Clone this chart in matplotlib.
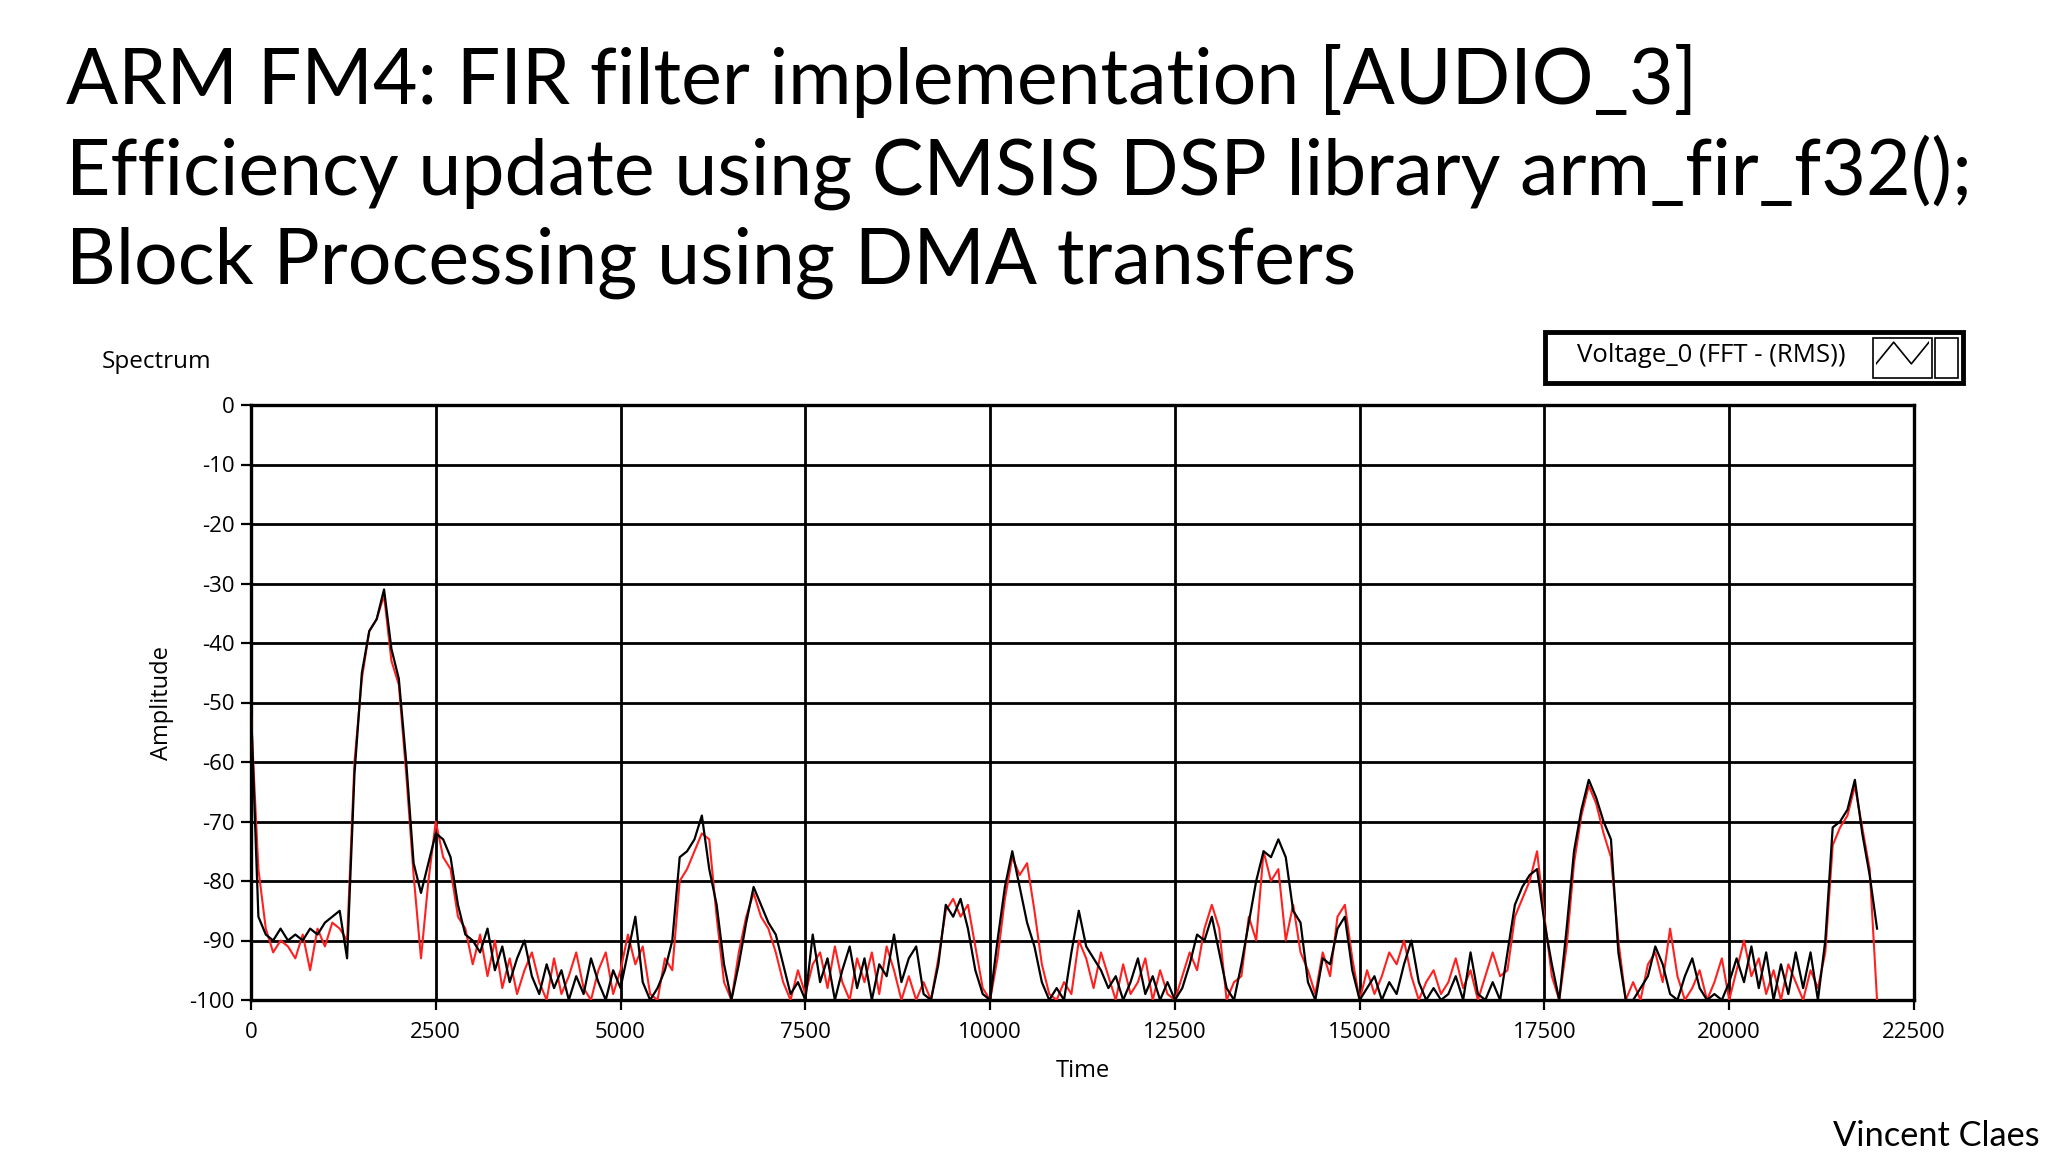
import numpy as np
import matplotlib.pyplot as plt
from matplotlib.patches import Rectangle

# Spectrum of the FIR output (dB), one value every 100 Hz from 0 to 22000 Hz
freq_step = 100
black_db = [
    -51, -86, -89, -90, -88, -90, -89, -90, -88, -89,
    -87, -86, -85, -93, -62, -45, -38, -36, -31, -41,
    -46, -60, -77, -82, -77, -72, -73, -76, -84, -89,
    -90, -92, -88, -95, -91, -97, -93, -90, -96, -99,
    -94, -98, -95, -100, -96, -99, -93, -97, -100, -95,
    -98, -92, -86, -97, -100, -98, -95, -90, -76, -75,
    -73, -69, -78, -84, -94, -100, -94, -87, -81, -84,
    -87, -89, -94, -99, -97, -100, -89, -97, -93, -100,
    -95, -91, -98, -93, -100, -94, -96, -89, -97, -93,
    -91, -99, -100, -94, -84, -86, -83, -88, -95, -99,
    -100, -90, -81, -75, -81, -87, -91, -97, -100, -98,
    -100, -92, -85, -91, -93, -95, -98, -96, -100, -97,
    -93, -99, -96, -100, -97, -100, -98, -94, -89, -90,
    -86, -92, -98, -100, -94, -87, -80, -75, -76, -73,
    -76, -85, -87, -97, -100, -93, -94, -88, -86, -95,
    -100, -98, -96, -100, -97, -99, -94, -90, -97, -100,
    -98, -100, -99, -96, -100, -92, -99, -100, -97, -100,
    -92, -84, -81, -79, -78, -87, -94, -100, -88, -75,
    -68, -63, -66, -70, -73, -92, -100, -100, -98, -96,
    -91, -94, -99, -100, -96, -93, -98, -100, -99, -100,
    -97, -93, -97, -91, -98, -92, -100, -94, -99, -92,
    -98, -92, -100, -90, -71, -70, -68, -63, -72, -79,
    -88,
]
red_db = [
    -52, -78, -88, -92, -90, -91, -93, -89, -95, -88,
    -91, -87, -88, -90, -60, -46, -38, -36, -32, -43,
    -47, -62, -79, -93, -80, -70, -76, -78, -86, -88,
    -94, -89, -96, -90, -98, -93, -99, -95, -92, -97,
    -100, -93, -99, -96, -92, -98, -100, -95, -92, -99,
    -95, -89, -94, -91, -99, -100, -93, -95, -80, -78,
    -75, -72, -73, -86, -97, -100, -92, -86, -82, -86,
    -88, -92, -97, -100, -95, -99, -94, -92, -98, -91,
    -97, -100, -93, -97, -92, -99, -91, -95, -100, -96,
    -100, -97, -100, -93, -85, -83, -86, -84, -91, -98,
    -100, -93, -83, -76, -79, -77, -85, -94, -99, -100,
    -97, -99, -90, -93, -98, -92, -96, -100, -94, -99,
    -97, -93, -100, -95, -99, -100, -96, -92, -95, -88,
    -84, -88, -100, -97, -96, -86, -90, -75, -80, -78,
    -90, -84, -92, -95, -99, -92, -96, -86, -84, -93,
    -100, -95, -99, -96, -92, -94, -90, -96, -100, -97,
    -95, -99, -97, -93, -98, -95, -100, -96, -92, -96,
    -95, -86, -83, -80, -75, -86, -96, -100, -91, -77,
    -69, -64, -67, -72, -76, -90, -100, -97, -100, -94,
    -92, -97, -88, -96, -100, -98, -95, -100, -97, -93,
    -100, -95, -90, -96, -93, -99, -95, -100, -94, -97,
    -100, -95, -98, -92, -74, -71, -69, -64, -71, -78,
    -100,
]
x_ticks = [0, 2500, 5000, 7500, 10000, 12500, 15000, 17500, 20000, 22500]
y_ticks = [0, -10, -20, -30, -40, -50, -60, -70, -80, -90, -100]

title_lines = [
    "ARM FM4: FIR filter implementation [AUDIO_3]",
    "Efficiency update using CMSIS DSP library arm_fir_f32();",
    "Block Processing using DMA transfers",
]

plt.rcParams['axes.unicode_minus'] = False
plt.rcParams['font.family'] = ['Open Sans', 'DejaVu Sans']

W, H = 2048, 1152
fig = plt.figure(figsize=(W / 100, H / 100), dpi=100, facecolor='white')


def fx(x):
    return x / W


def fy(y):
    return 1 - y / H


ax = fig.add_axes([fx(251), fy(1000), fx(1914) - fx(251), fy(405) - fy(1000)])
freq = np.arange(len(black_db)) * freq_step
ax.plot(freq, red_db, color='#ff2020', lw=1.5, zorder=3)
ax.plot(freq, black_db, color='black', lw=1.6, zorder=4)

ax.set_xlim(0, 22500)
ax.set_ylim(-100, 0)
ax.set_xticks(x_ticks)
ax.set_yticks(y_ticks)
ax.grid(True, color='black', lw=2.0)
ax.set_axisbelow(True)
for s in ax.spines.values():
    s.set_linewidth(2.4)
    s.set_color('black')
ax.tick_params(axis='both', direction='out', length=7, width=1.6,
               labelsize=16, colors='black', pad=5)
ax.tick_params(axis='x', pad=8.5)
ax.set_xlabel('Time', fontsize=17, labelpad=12)
ax.set_ylabel('Amplitude', fontsize=17, labelpad=11)

fig.text(fx(102), fy(362), 'Spectrum', fontsize=17.5, va='center', ha='left')

# legend box in LabVIEW style
fig.patches.append(Rectangle((fx(1545), fy(383)), fx(1963) - fx(1545), fy(332) - fy(383),
                             transform=fig.transFigure, fill=False, ec='black', lw=3.5))
fig.patches.append(Rectangle((fx(1873), fy(378)), fx(1932) - fx(1873), fy(338) - fy(378),
                             transform=fig.transFigure, fill=False, ec='black', lw=1.2))
fig.patches.append(Rectangle((fx(1935), fy(378)), fx(1958) - fx(1935), fy(338) - fy(378),
                             transform=fig.transFigure, fill=False, ec='black', lw=1.2))
fig.text(fx(1711), fy(355), 'Voltage_0 (FFT - (RMS))', fontsize=18.5, ha='center', va='center')
icon = fig.add_axes([fx(1876), fy(366), fx(1929) - fx(1876), fy(340) - fy(366)])
icon.plot([0, 1, 2, 3], [0, 1, 0, 1], color='black', lw=1.2)
icon.set_xlim(0, 3)
icon.set_ylim(-0.1, 1.1)
icon.axis('off')

# slide title and author, widths fitted to the reference
renderer = fig.canvas.get_renderer()
title_texts = []
for i, line in enumerate(title_lines):
    t = fig.text(fx(66), fy([104, 195, 284][i]), line, fontsize=50,
                 ha='left', va='baseline', family=['Lato', 'DejaVu Sans'])
    title_texts.append(t)
w = title_texts[1].get_window_extent(renderer).width
size = 50 * 1906 / w
for t in title_texts:
    t.set_fontsize(size)

author = fig.text(fx(2040), fy(1146), 'Vincent Claes', fontsize=24,
                  ha='right', va='baseline', family=['Lato', 'DejaVu Sans'])
w = author.get_window_extent(renderer).width
author.set_fontsize(24 * 207 / w)

fig.savefig('out.png', dpi=100, facecolor='white')
